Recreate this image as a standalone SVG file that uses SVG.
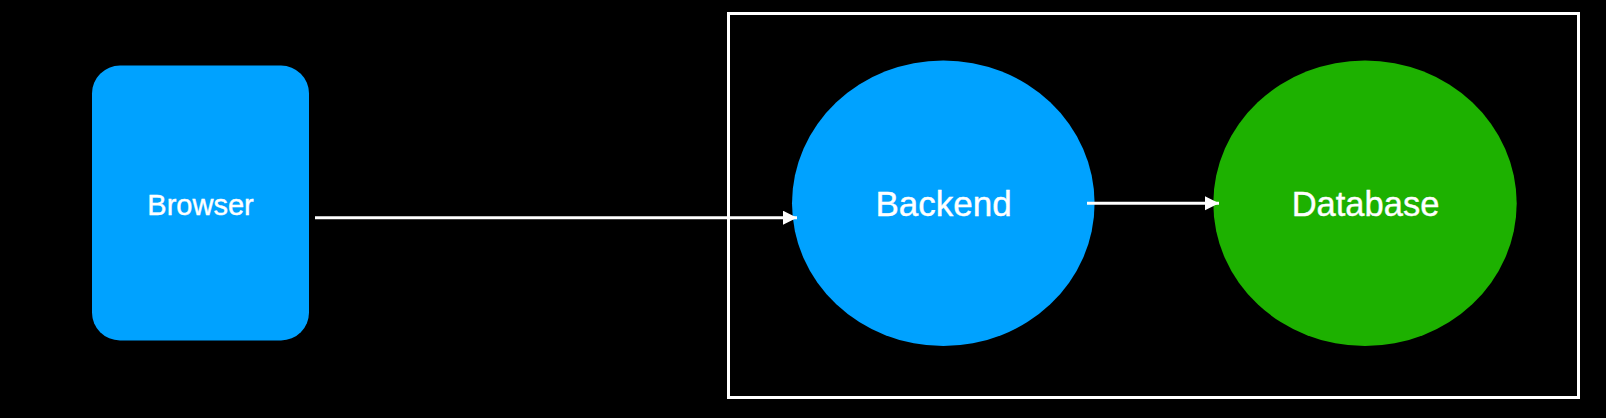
<svg xmlns="http://www.w3.org/2000/svg" width="1606" height="418" viewBox="0 0 1606 418">
  <style>
    .label { font-family: "Liberation Sans", Arial, Helvetica, sans-serif; fill: #ffffff; text-anchor: middle; stroke: #ffffff; stroke-width: 0.4; }
    .conn { stroke: #ffffff; stroke-width: 3; fill: none; }
  </style>
  <defs>
    <marker id="arrow" markerUnits="userSpaceOnUse" markerWidth="15" markerHeight="15" refX="14" refY="7" orient="auto">
      <path d="M0,0 L14,7 L0,14 z" fill="#ffffff"/>
    </marker>
  </defs>
  <rect x="0" y="0" width="1606" height="418" fill="#000000"/>
  <g id="container">
    <rect x="728.5" y="13.5" width="850" height="384" fill="none" stroke="#ffffff" stroke-width="3"/>
  </g>
  <g id="browser">
    <rect x="92" y="65.5" width="217" height="275" rx="28" ry="28" fill="#00A2FF"/>
    <text class="label" x="200.5" y="214.5" font-size="29">Browser</text>
  </g>
  <g id="backend">
    <ellipse cx="943.3" cy="203.3" rx="151.3" ry="142.8" fill="#00A2FF"/>
    <text class="label" x="943.5" y="216" font-size="35">Backend</text>
  </g>
  <g id="database">
    <ellipse cx="1365" cy="203.3" rx="151.7" ry="142.8" fill="#1DB100"/>
    <text class="label" x="1365.5" y="216" font-size="34.5">Database</text>
  </g>
  <g id="connectors">
    <line class="conn" x1="315" y1="217.7" x2="797" y2="217.7" marker-end="url(#arrow)"/>
    <line class="conn" x1="1087" y1="203.3" x2="1219" y2="203.3" marker-end="url(#arrow)"/>
  </g>
</svg>
